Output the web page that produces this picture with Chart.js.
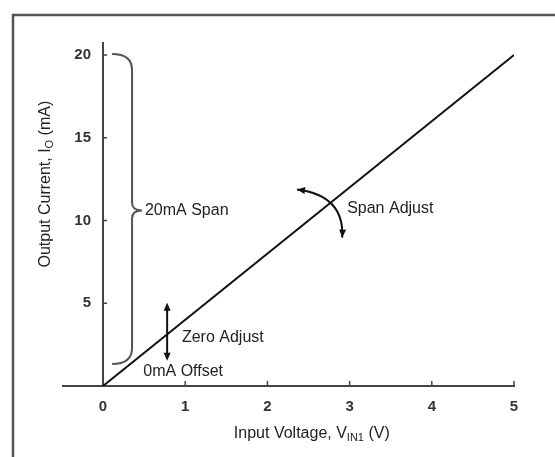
<!DOCTYPE html>
<html>
<head>
<meta charset="utf-8">
<script src="https://cdn.jsdelivr.net/npm/chart.js@4/dist/chart.umd.min.js"></script>
<style>
  html, body { margin: 0; padding: 0; background: #fff; }
  #wrap { width: 555px; height: 457px; }
</style>
</head>
<body>
<div id="wrap"><canvas id="transferChart"></canvas></div>
<script>
// data
const inputVoltage = [0, 5]
const outputCurrent = [0, 20]
const xTickValues = [0, 1, 2, 3, 4, 5]
const yTickValues = [5, 10, 15, 20]

const FONT = '"Liberation Sans", Arial, sans-serif'
const INK = '#222'
const AXIS = '#444'

// annotation anchors, in data units (V, mA)
const brace = { xEnd: 0.11, xStem: 0.353, xPoint: 0.474, top: 20.06, mid: 10.6, bottom: 1.33 }
const zeroArrow = { x: 0.78, top: 5.03, bottom: 1.52 }
const spanArc = { x0: 2.36, y0: 11.88, cx: 2.94, cy: 11.52, x1: 2.91, y1: 8.97 }
const notes = [
  { text: '20mA Span', x: 0.51, y: 10.6 },
  { text: 'Zero Adjust', x: 0.96, y: 2.95 },
  { text: '0mA Offset', x: 0.49, y: 0.85 },
  { text: 'Span Adjust', x: 2.97, y: 10.75 }
]

function arrowHead(ctx, x, y, angle) {
  ctx.save()
  ctx.translate(x, y)
  ctx.rotate(angle)
  ctx.beginPath()
  ctx.moveTo(0, 0)
  ctx.lineTo(-8, -3.5)
  ctx.lineTo(-8, 3.5)
  ctx.closePath()
  ctx.fill()
  ctx.restore()
}

// draws text pieces, some as subscripts, centred on (0,0) of the current transform
function richText(ctx, parts, size) {
  let total = 0
  parts.forEach(p => {
    ctx.font = (p.sub ? Math.round(size * 0.7) : size) + 'px ' + FONT
    p.w = ctx.measureText(p.t).width
    total += p.w
  })
  let x = -total / 2
  ctx.textBaseline = 'middle'
  ctx.textAlign = 'left'
  parts.forEach(p => {
    ctx.font = (p.sub ? Math.round(size * 0.7) : size) + 'px ' + FONT
    ctx.fillText(p.t, x, p.sub ? 4 : 0)
    x += p.w
  })
}

const decorations = {
  id: 'decorations',
  afterDraw(chart) {
    const ctx = chart.ctx
    const xs = chart.scales.x
    const ys = chart.scales.y
    const X = v => xs.getPixelForValue(v)
    const Y = v => ys.getPixelForValue(v)
    const x0 = X(0)
    const yAxisBottom = chart.chartArea.bottom

    ctx.save()
    // outer frame (only top and left are in view)
    ctx.strokeStyle = '#555'
    ctx.lineWidth = 2.5
    ctx.beginPath()
    ctx.moveTo(13, chart.height)
    ctx.lineTo(13, 15)
    ctx.lineTo(chart.width, 15)
    ctx.stroke()

    // inward tick marks
    ctx.strokeStyle = AXIS
    ctx.lineWidth = 1.5
    ctx.beginPath()
    xTickValues.slice(1).forEach(v => {
      ctx.moveTo(X(v), yAxisBottom)
      ctx.lineTo(X(v), yAxisBottom - 5)
    })
    yTickValues.forEach(v => {
      ctx.moveTo(x0, Y(v))
      ctx.lineTo(x0 + 4, Y(v))
    })
    ctx.stroke()

    // y tick labels, right aligned left of the axis
    ctx.fillStyle = '#333'
    ctx.font = 'bold 15px ' + FONT
    ctx.textAlign = 'right'
    ctx.textBaseline = 'middle'
    ys.ticks.forEach(t => ctx.fillText(String(t.value), x0 - 12, Y(t.value)))

    // brace for the 20mA span
    const bx = X(brace.xEnd), bs = X(brace.xStem), bp = X(brace.xPoint)
    const bt = Y(brace.top), bm = Y(brace.mid), bb = Y(brace.bottom)
    ctx.strokeStyle = '#555'
    ctx.lineWidth = 2
    ctx.beginPath()
    ctx.moveTo(bx, bt)
    ctx.quadraticCurveTo(bs, bt, bs, bt + 16)
    ctx.lineTo(bs, bm - 8)
    ctx.quadraticCurveTo(bs, bm, bp, bm)
    ctx.quadraticCurveTo(bs, bm, bs, bm + 8)
    ctx.lineTo(bs, bb - 16)
    ctx.quadraticCurveTo(bs, bb, bx, bb)
    ctx.stroke()

    // zero adjust double arrow
    ctx.strokeStyle = '#111'
    ctx.fillStyle = '#111'
    ctx.lineWidth = 2
    const zx = X(zeroArrow.x), zt = Y(zeroArrow.top), zb = Y(zeroArrow.bottom)
    ctx.beginPath()
    ctx.moveTo(zx, zt + 4)
    ctx.lineTo(zx, zb - 4)
    ctx.stroke()
    arrowHead(ctx, zx, zt, -Math.PI / 2)
    arrowHead(ctx, zx, zb, Math.PI / 2)

    // span adjust curved arrow
    const a0x = X(spanArc.x0), a0y = Y(spanArc.y0)
    const acx = X(spanArc.cx), acy = Y(spanArc.cy)
    const a1x = X(spanArc.x1), a1y = Y(spanArc.y1)
    ctx.beginPath()
    ctx.moveTo(a0x, a0y)
    ctx.quadraticCurveTo(acx, acy, a1x, a1y)
    ctx.stroke()
    arrowHead(ctx, a0x, a0y, Math.atan2(a0y - acy, a0x - acx))
    arrowHead(ctx, a1x, a1y, Math.atan2(a1y - acy, a1x - acx))

    // notes
    ctx.fillStyle = INK
    ctx.font = '16px ' + FONT
    ctx.textAlign = 'left'
    ctx.textBaseline = 'middle'
    notes.forEach(n => ctx.fillText(n.text, X(n.x), Y(n.y)))

    // axis titles
    ctx.save()
    ctx.translate(X(2.54), yAxisBottom + 48)
    richText(ctx, [{ t: 'Input Voltage, V' }, { t: 'IN1', sub: true }, { t: ' (V)' }], 16)
    ctx.restore()

    ctx.save()
    ctx.translate(x0 - 57, Y(12.2))
    ctx.rotate(-Math.PI / 2)
    richText(ctx, [{ t: 'Output Current, I' }, { t: 'O', sub: true }, { t: ' (mA)' }], 16)
    ctx.restore()

    ctx.restore()
  }
}

const ctx = document.getElementById('transferChart')

new Chart(ctx, {
  type: 'scatter',
  data: {
    datasets: [{
      data: inputVoltage.map((v, i) => ({ x: v, y: outputCurrent[i] })),
      showLine: true,
      borderColor: '#111',
      borderWidth: 2,
      pointRadius: 0,
      tension: 0
    }]
  },
  options: {
    responsive: true,
    maintainAspectRatio: false,
    animation: false,
    layout: {
      padding: { left: 63, right: 41, top: 43, bottom: 29 }
    },
    plugins: {
      legend: { display: false },
      tooltip: { enabled: false }
    },
    scales: {
      x: {
        type: 'linear',
        min: -0.487,
        max: 5,
        afterBuildTicks: scale => { scale.ticks = xTickValues.map(v => ({ value: v })) },
        ticks: {
          color: '#333',
          padding: 12,
          font: { family: FONT, size: 15, weight: 'bold' }
        },
        grid: { drawOnChartArea: false, drawTicks: false },
        border: { color: AXIS, width: 2 }
      },
      y: {
        type: 'linear',
        min: 0,
        max: 20.73,
        position: { x: 0 },
        afterBuildTicks: scale => { scale.ticks = yTickValues.map(v => ({ value: v })) },
        ticks: { display: false },
        grid: { drawOnChartArea: false, drawTicks: false },
        border: { color: AXIS, width: 2 }
      }
    }
  },
  plugins: [decorations]
})
</script>
</body>
</html>
